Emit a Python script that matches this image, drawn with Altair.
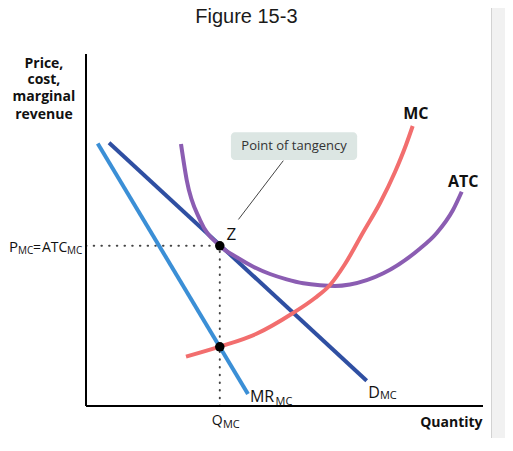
import altair as alt
import pandas as pd

# ---- data (Quantity, Price units 0..100) ----
mr_q = [2.95, 40.8]
mr_p = [74.6, 3.4]
d_q = [5.8, 70.7]
d_p = [74.8, 7.2]
atc_q = [23.93, 25.37, 28.72, 33.68, 37.96, 42.14, 46.35, 50.55, 54.74, 58.94, 62.72,
         66.50, 74.89, 83.70, 88.34, 92.44, 94.64]
atc_p = [74.43, 64.20, 52.84, 45.54, 42.24, 39.57, 37.50, 35.99, 34.86, 34.29, 34.09,
         34.52, 37.70, 44.32, 49.15, 55.68, 60.88]
mc_q = [25.19, 33.68, 42.82, 51.96, 57.68, 61.46, 65.24, 69.85, 74.06, 77.83, 80.60, 82.29]
mc_p = [14.01, 16.85, 20.45, 26.28, 30.68, 34.38, 40.34, 49.43, 57.67, 66.48, 74.15, 79.55]
z_q, z_p = 33.7, 45.5          # point of tangency
mcpt_q, mcpt_p = 33.7, 16.8    # MR = MC

FONT = "Open Sans"
xs = alt.Scale(domain=[0, 100], nice=False, zero=False)
ys = alt.Scale(domain=[0, 100], nice=False, zero=False)


def X(f="q"):
    return alt.X(f"{f}:Q", scale=xs, axis=None)


def Y(f="p"):
    return alt.Y(f"{f}:Q", scale=ys, axis=None)


def curve(qs, ps, color, interp="linear"):
    df = pd.DataFrame({"q": qs, "p": ps})
    return alt.Chart(df).mark_line(color=color, strokeWidth=4, interpolate=interp,
                                   strokeCap="butt").encode(x=X(), y=Y(), order="q:Q")


def texts(items, size, weight="normal", align="left", color="#111", font=FONT):
    df = pd.DataFrame(items, columns=["text", "q", "p"])
    return alt.Chart(df).mark_text(fontSize=size, fontWeight=weight, align=align,
                                   baseline="alphabetic", color=color, font=font).encode(
        x=X(), y=Y(), text="text:N")


def seg(q1, p1, q2, p2, **kw):
    df = pd.DataFrame({"q": [q1], "p": [p1], "q2": [q2], "p2": [p2]})
    return alt.Chart(df).mark_rule(**kw).encode(
        x=X(), y=Y(), x2="q2:Q", y2="p2:Q")


one = pd.DataFrame({"a": [0]})
panel = alt.Chart(one).mark_rect(fill="#f1f1f1").encode(
    x=alt.value(405), x2=alt.value(420), y=alt.value(-46), y2=alt.value(384))
panel_edge = alt.Chart(one).mark_rule(color="#d2d2d2", strokeWidth=1).encode(
    x=alt.value(405.5), y=alt.value(-46), y2=alt.value(384))

x_axis = seg(0, 0, 100, 0, color="black", strokeWidth=2)
y_axis = seg(0, 0, 0, 100, color="black", strokeWidth=2)

dot_kw = dict(color="#444", strokeWidth=2, strokeDash=[0.5, 7.2], strokeCap="round")
h_dots = seg(0, z_p, z_q, z_p, **dot_kw)
v_dots = seg(z_q, 0, z_q, z_p, **dot_kw)

box_df = pd.DataFrame({"q": [36.5], "q2": [68.3], "p": [69.9], "p2": [77.8]})
box = alt.Chart(box_df).mark_rect(fill="#dce6e3", cornerRadius=4).encode(
    x=X(), x2="q2:Q", y=Y(), y2="p2:Q")
leader = seg(49.7, 69.7, 38.4, 53.0, color="#444", strokeWidth=1)

pts = pd.DataFrame({"q": [z_q, mcpt_q], "p": [z_p, mcpt_p]})
dots = alt.Chart(pts).mark_circle(color="black", size=90, opacity=1).encode(x=X(), y=Y())

title = texts([["Figure 15-3", 40.4, 108.7]], 20, align="center", color="#1a1a1a",
              font="Liberation Sans")
curve_labels = texts([["MC", 83.1, 81.5], ["ATC", 95.0, 62.2]], 16, weight="bold",
                     align="center")
z_label = texts([["Z", 36.6, 47.2]], 17, align="center")
big_reg = texts([["MR", 41.3, 1.1], ["D", 71.1, 2.36]], 16)
p_label = texts([["P", -19.4, 43.83]], 15)
q_label = texts([["Q", 31.7, -5.4]], 14)
subs = texts([["MC", 47.73, 0.3], ["MC", 74.05, 2.13], ["MC", 34.5, -6.3]], 11)
subs_left = texts([["MC", -17.13, 43.1], ["MC", -4.79, 43.1]], 10)
eq = texts([["=", -13.35, 43.83], ["ATC", -11.08, 43.83]], 14)
quantity = texts([["Quantity", 99.9, -5.9]], 14, weight="bold", align="right")
ytitle = texts([["Price,", -10.6, 96.0], ["cost,", -10.6, 91.5],
                ["marginal", -10.6, 86.65], ["revenue", -10.6, 81.5]], 14,
               weight="bold", align="center")
box_text = texts([["Point of tangency", 52.4, 72.7]], 13, align="center", color="#333")

chart = alt.layer(
    panel, panel_edge,
    h_dots, v_dots,
    curve(mr_q, mr_p, "#3b8fd6"),
    curve(d_q, d_p, "#2f4fa2"),
    curve(atc_q, atc_p, "#8b5db2", "monotone"),
    curve(mc_q, mc_p, "#f26e6e", "monotone"),
    x_axis, y_axis,
    box, leader, dots,
    title, curve_labels, z_label, big_reg, p_label, q_label, subs, subs_left, eq,
    quantity, ytitle, box_text,
).properties(
    width=397, height=352,
    autosize=alt.AutoSizeParams(type="none"),
    padding={"left": 78, "top": 46, "right": 22, "bottom": 32},
).configure_view(stroke=None)

chart.save("out.html", embed_options={"renderer": "svg", "actions": False})
